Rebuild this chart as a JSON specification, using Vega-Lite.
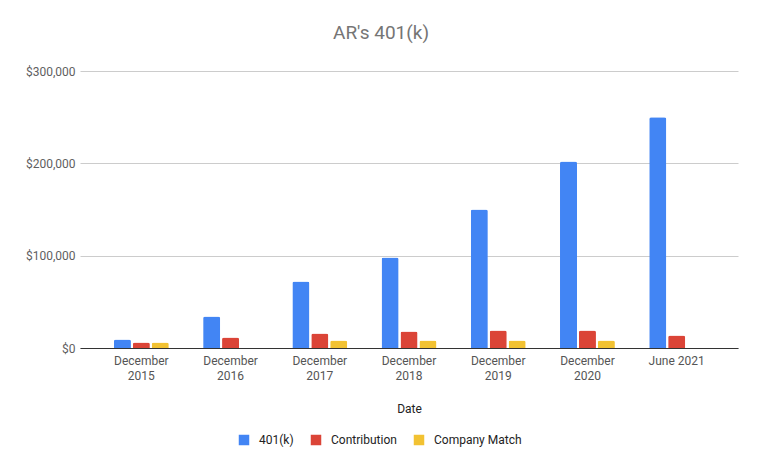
{
  "$schema": "https://vega.github.io/schema/vega-lite/v6.json",
  "width": 658,
  "height": 277,
  "autosize": {"type": "none"},
  "padding": {"left": 80, "top": 71, "right": 23, "bottom": 123},
  "background": "white",
  "title": {"text": "AR's 401(k)", "font": "Roboto", "fontSize": 19, "fontWeight": "normal", "color": "#757575", "anchor": "middle", "frame": "group", "dx": -28, "offset": 22},
  "config": {"view": {"stroke": null}, "font": "Roboto"},
  "data": {"values": [
    {"Date": "December 2015", "Series": "401(k)", "Value": 9200},
    {"Date": "December 2015", "Series": "Contribution", "Value": 6000},
    {"Date": "December 2015", "Series": "Company Match", "Value": 6000},
    {"Date": "December 2016", "Series": "401(k)", "Value": 34000},
    {"Date": "December 2016", "Series": "Contribution", "Value": 11400},
    {"Date": "December 2016", "Series": "Company Match", "Value": 0},
    {"Date": "December 2017", "Series": "401(k)", "Value": 72000},
    {"Date": "December 2017", "Series": "Contribution", "Value": 15700},
    {"Date": "December 2017", "Series": "Company Match", "Value": 8000},
    {"Date": "December 2018", "Series": "401(k)", "Value": 98000},
    {"Date": "December 2018", "Series": "Contribution", "Value": 17900},
    {"Date": "December 2018", "Series": "Company Match", "Value": 8000},
    {"Date": "December 2019", "Series": "401(k)", "Value": 150000},
    {"Date": "December 2019", "Series": "Contribution", "Value": 19000},
    {"Date": "December 2019", "Series": "Company Match", "Value": 8000},
    {"Date": "December 2020", "Series": "401(k)", "Value": 202000},
    {"Date": "December 2020", "Series": "Contribution", "Value": 19000},
    {"Date": "December 2020", "Series": "Company Match", "Value": 8000},
    {"Date": "June 2021", "Series": "401(k)", "Value": 250000},
    {"Date": "June 2021", "Series": "Contribution", "Value": 13500},
    {"Date": "June 2021", "Series": "Company Match", "Value": 0}
  ]},
  "mark": {"type": "bar", "cornerRadiusTopLeft": 2, "cornerRadiusTopRight": 2},
  "encoding": {
    "x": {"field": "Date", "type": "nominal", "sort": null,
      "scale": {"paddingInner": 0.385, "paddingOuter": 0.38},
      "axis": {"title": "Date", "labelAngle": 0, "ticks": false, "labelPadding": 7, "labelFontSize": 12, "labelColor": "#555555", "labelLineHeight": 15,
        "labelExpr": "datum.label == 'June 2021' ? datum.label : split(datum.label, ' ')",
        "domainColor": "#333333", "domainWidth": 1, "titleFontSize": 12, "titleFontWeight": "normal", "titleColor": "#222222", "titlePadding": 22, "labelFont": "Roboto", "titleFont": "Roboto"}},
    "xOffset": {"field": "Series", "type": "nominal", "sort": ["401(k)", "Contribution", "Company Match"], "scale": {"paddingInner": 0.1, "paddingOuter": 0}},
    "y": {"field": "Value", "type": "quantitative",
      "scale": {"domain": [0, 300000], "nice": false},
      "axis": {"title": null, "values": [0, 100000, 200000, 300000], "format": "$,.0f", "ticks": false, "domain": false, "labelPadding": 5, "labelFontSize": 12, "labelColor": "#5f5f5f", "gridColor": "#cccccc", "labelFont": "Roboto"}},
    "color": {"field": "Series", "type": "nominal", "sort": ["401(k)", "Contribution", "Company Match"],
      "scale": {"domain": ["401(k)", "Contribution", "Company Match"], "range": ["#4285f4", "#db4437", "#f2c232"]},
      "legend": {"title": null, "orient": "none", "direction": "horizontal", "legendX": 158, "legendY": 363, "symbolType": "square", "symbolSize": 110, "symbolStrokeWidth": 0, "labelFontSize": 12, "labelColor": "#222222", "labelFont": "Roboto", "columnPadding": 16, "labelOffset": 9, "padding": 0}}
  }
}
